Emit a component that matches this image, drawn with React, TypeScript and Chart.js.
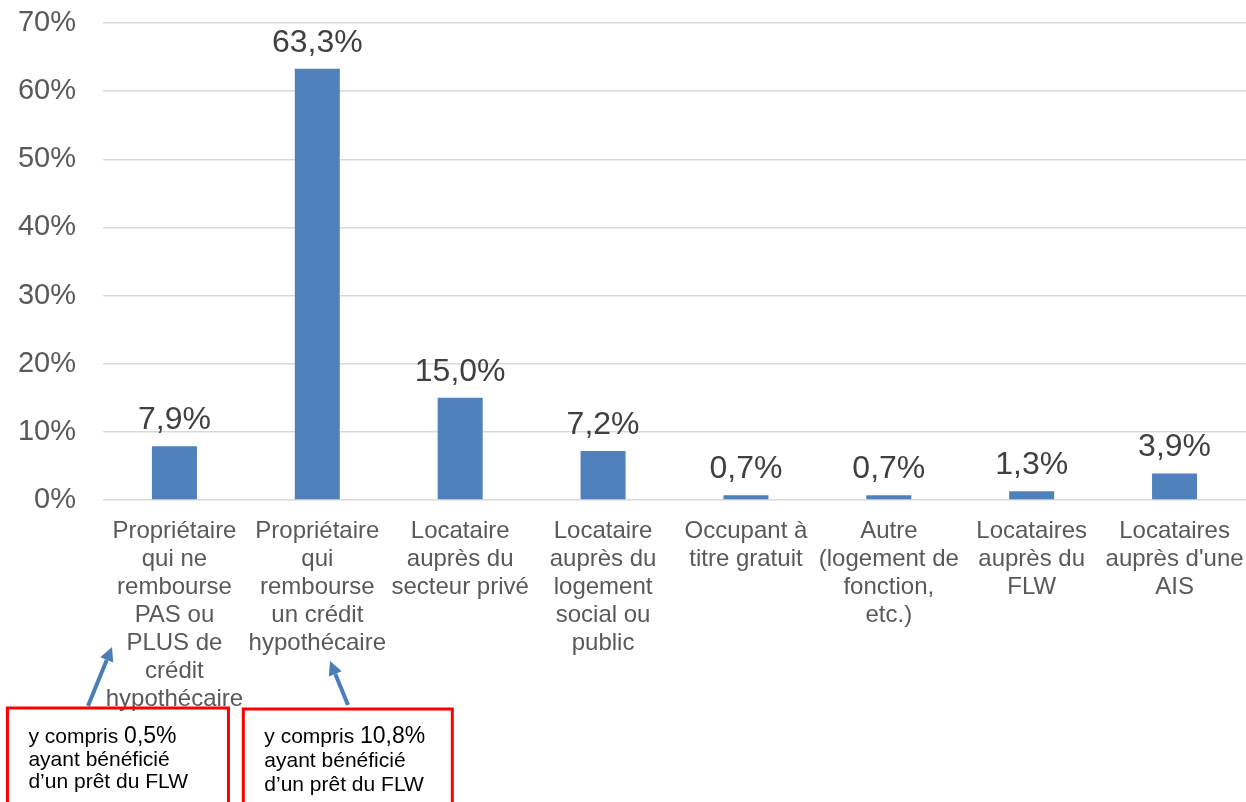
import React, { useEffect, useRef } from "react";
import { Chart, registerables } from "chart.js";

Chart.register(...registerables);

const categories: string[][] = [
  ["Propriétaire", "qui ne", "rembourse", "PAS ou", "PLUS de", "crédit", "hypothécaire"],
  ["Propriétaire", "qui", "rembourse", "un crédit", "hypothécaire"],
  ["Locataire", "auprès du", "secteur privé"],
  ["Locataire", "auprès du", "logement", "social ou", "public"],
  ["Occupant à", "titre gratuit"],
  ["Autre", "(logement de", "fonction,", "etc.)"],
  ["Locataires", "auprès du", "FLW"],
  ["Locataires", "auprès d'une", "AIS"],
];
const values: number[] = [7.9, 63.3, 15.0, 7.2, 0.7, 0.7, 1.3, 3.9];
const yTicks: number[] = [0, 10, 20, 30, 40, 50, 60, 70];
const notes: { index: number; pct: string }[] = [
  { index: 0, pct: "0,5%" },
  { index: 1, pct: "10,8%" },
];

const FONT = "'Liberation Sans', Arial, sans-serif";

const fmt = (v: number) => v.toFixed(1).replace(".", ",") + "%";

const dataLabelPlugin = {
  id: "dataLabels",
  afterDatasetsDraw(chart: any) {
    const ctx = chart.ctx;
    const meta = chart.getDatasetMeta(0);
    ctx.save();
    ctx.font = `32px ${FONT}`;
    ctx.fillStyle = "#404040";
    ctx.textAlign = "center";
    ctx.textBaseline = "alphabetic";
    meta.data.forEach((bar: any, i: number) => {
      ctx.fillText(fmt(values[i]), bar.x, bar.y - 17);
    });
    ctx.restore();
  },
};

function arrow(ctx: CanvasRenderingContext2D, x1: number, y1: number, x2: number, y2: number) {
  const ang = Math.atan2(y2 - y1, x2 - x1);
  const head = 14;
  const bx = x2 - Math.cos(ang) * head;
  const by = y2 - Math.sin(ang) * head;
  ctx.strokeStyle = "#4a7ebb";
  ctx.fillStyle = "#4a7ebb";
  ctx.lineWidth = 4;
  ctx.beginPath();
  ctx.moveTo(x1, y1);
  ctx.lineTo(bx, by);
  ctx.stroke();
  ctx.beginPath();
  ctx.moveTo(x2, y2);
  ctx.lineTo(bx + Math.cos(ang + Math.PI / 2) * 7, by + Math.sin(ang + Math.PI / 2) * 7);
  ctx.lineTo(bx + Math.cos(ang - Math.PI / 2) * 7, by + Math.sin(ang - Math.PI / 2) * 7);
  ctx.closePath();
  ctx.fill();
}

const notesPlugin = {
  id: "notes",
  afterDraw(chart: any) {
    const ctx = chart.ctx as CanvasRenderingContext2D;
    const xs = chart.scales.x;
    ctx.save();
    const boxes = [
      { left: xs.getPixelForValue(0) - 167, width: 221, top: 708, arrowFrom: [88, 706], arrowTo: [112, 647], gap: 22.5 },
      { left: xs.getPixelForValue(1) - 74, width: 209, top: 709, arrowFrom: [348, 705], arrowTo: [330, 661], gap: 24 },
    ];
    notes.forEach((n, k) => {
      const b = boxes[k];
      ctx.strokeStyle = "#ff0000";
      ctx.lineWidth = 3;
      ctx.strokeRect(b.left, b.top, b.width, 120);
      ctx.fillStyle = "#000000";
      ctx.textAlign = "left";
      ctx.textBaseline = "alphabetic";
      const tx = b.left + 21;
      const y0 = 743;
      ctx.font = `21px ${FONT}`;
      const pre = "y compris ";
      ctx.fillText(pre, tx, y0);
      const w = ctx.measureText(pre).width;
      ctx.font = `23px ${FONT}`;
      ctx.fillText(n.pct, tx + w, y0);
      ctx.font = `21px ${FONT}`;
      ctx.fillText("ayant bénéficié", tx, y0 + b.gap);
      ctx.fillText("d\u2019un prêt du FLW", tx, y0 + 2 * b.gap);
      arrow(ctx, b.arrowFrom[0], b.arrowFrom[1], b.arrowTo[0], b.arrowTo[1]);
    });
    ctx.restore();
  },
};

export default function App() {
  const ref = useRef<HTMLCanvasElement | null>(null);
  useEffect(() => {
    document.body.style.margin = "0";
    if (!ref.current) return;
    const chart = new Chart(ref.current, {
      type: "bar",
      data: {
        labels: categories,
        datasets: [
          {
            data: values,
            backgroundColor: "#4f81bd",
            barPercentage: 0.315,
            categoryPercentage: 1,
          },
        ],
      },
      options: {
        animation: false,
        responsive: false,
        maintainAspectRatio: false,
        layout: { padding: { top: 23, right: 0, bottom: 0, left: 0 } },
        plugins: { legend: { display: false }, tooltip: { enabled: false } },
        scales: {
          x: {
            grid: { display: false },
            border: { display: false },
            ticks: {
              autoSkip: false,
              maxRotation: 0,
              minRotation: 0,
              padding: 9,
              color: "#595959",
              font: { family: FONT, size: 24, lineHeight: 28 / 24 },
            },
            afterFit(scale: any) {
              scale.height = 302;
              scale.paddingLeft = 0;
              scale.paddingRight = 0;
            },
          },
          y: {
            min: 0,
            max: 70,
            afterBuildTicks(scale: any) {
              scale.ticks = yTicks.map((v) => ({ value: v }));
            },
            grid: { color: "#d9d9d9", lineWidth: 1.5, drawTicks: false },
            border: { display: false },
            ticks: {
              padding: 27,
              color: "#595959",
              font: { family: FONT, size: 29 },
              callback: (v: any) => v + "%",
            },
            afterFit(scale: any) {
              scale.width = 103;
              scale.paddingTop = 0;
              scale.paddingBottom = 0;
            },
          },
        },
      },
      plugins: [dataLabelPlugin, notesPlugin],
    });
    return () => chart.destroy();
  }, []);
  return (
    <div style={{ position: "absolute", left: 0, top: 0, width: 1246, height: 802 }}>
      <canvas ref={ref} width={1246} height={802} style={{ width: 1246, height: 802, display: "block" }} />
    </div>
  );
}
